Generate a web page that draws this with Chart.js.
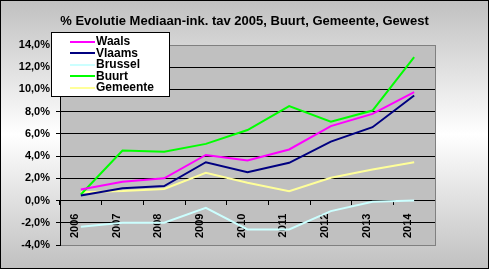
<!DOCTYPE html>
<html>
<head>
<meta charset="utf-8">
<script src="https://cdn.jsdelivr.net/npm/chart.js@4"></script>
<style>
  html, body { margin: 0; padding: 0; }
  #wrap { width: 489px; height: 269px; }
</style>
</head>
<body>
<div id="wrap"><canvas id="evolutieChart" width="489" height="269"></canvas></div>
<script>
// data (% change vs 2005)
const years = ['2006', '2007', '2008', '2009', '2010', '2011', '2012', '2013', '2014'];
const waals = [1.0, 1.7, 2.0, 4.1, 3.6, 4.6, 6.7, 7.8, 9.75];
const vlaams = [0.45, 1.1, 1.3, 3.45, 2.55, 3.4, 5.3, 6.6, 9.45];
const brussel = [-2.35, -2.0, -2.0, -0.65, -2.6, -2.6, -0.95, -0.1, 0.0];
const buurt = [0.55, 4.5, 4.4, 5.1, 6.35, 8.5, 7.1, 8.1, 12.9];
const gemeente = [0.75, 0.85, 1.05, 2.5, 1.6, 0.85, 2.05, 2.8, 3.45];
const yMin = -4;
const yMax = 14;
const yStep = 2;
const chartTitle = '% Evolutie Mediaan-ink. tav 2005, Buurt, Gemeente, Gewest';

const fontFam = '"Liberation Sans", Arial, sans-serif';

function pct(v) {
    return v.toFixed(1).replace('.', ',') + '%';
}

// background, plot area fill, frame and title
const backdrop = {
    id: 'backdrop',
    beforeDraw(chart) {
        const ctx = chart.ctx;
        const w = chart.width, h = chart.height;
        const g = ctx.createLinearGradient(0, 0, 0, h);
        g.addColorStop(0, '#c0c0c0');
        g.addColorStop(0.5, '#ffffff');
        g.addColorStop(1, '#c0c0c0');
        ctx.save();
        ctx.fillStyle = g;
        ctx.fillRect(0, 0, w, h);
        const a = chart.chartArea;
        ctx.fillStyle = '#c0c0c0';
        ctx.fillRect(a.left, a.top, a.right - a.left, a.bottom - a.top);
        ctx.restore();
    },
    beforeDatasetsDraw(chart) {
        const ctx = chart.ctx;
        const a = chart.chartArea;
        ctx.save();
        ctx.strokeStyle = '#808080';
        ctx.lineWidth = 1;
        ctx.beginPath();
        ctx.moveTo(Math.round(a.right) + 0.5, a.top);
        ctx.lineTo(Math.round(a.right) + 0.5, a.bottom + 1);
        ctx.stroke();
        ctx.restore();
    },
    afterDraw(chart) {
        const ctx = chart.ctx;
        ctx.save();
        ctx.fillStyle = '#000000';
        ctx.font = 'bold 13px ' + fontFam;
        ctx.textAlign = 'center';
        ctx.textBaseline = 'middle';
        ctx.fillText(chartTitle, chart.width / 2, 21);
        ctx.strokeStyle = '#000000';
        ctx.lineWidth = 1;
        ctx.strokeRect(0.5, 0.5, chart.width - 1, chart.height - 1);
        ctx.restore();
    }
};

// boxed legend sitting over the top left of the plot
const boxLegend = {
    id: 'boxLegend',
    afterDraw(chart) {
        const ctx = chart.ctx;
        const x = 51, y = 32, w = 118, h = 64;
        ctx.save();
        ctx.fillStyle = '#ffffff';
        ctx.fillRect(x, y, w, h);
        ctx.strokeStyle = '#000000';
        ctx.lineWidth = 1;
        ctx.strokeRect(x + 0.5, y + 0.5, w, h);
        ctx.font = 'bold 12px ' + fontFam;
        ctx.textBaseline = 'middle';
        ctx.textAlign = 'left';
        chart.data.datasets.forEach((ds, i) => {
            const cy = y + 9.5 + i * 11.5;
            ctx.strokeStyle = ds.borderColor;
            ctx.lineWidth = 2;
            ctx.beginPath();
            ctx.moveTo(70, Math.round(cy));
            ctx.lineTo(95, Math.round(cy));
            ctx.stroke();
            ctx.fillStyle = '#000000';
            ctx.fillText(ds.label, 96, cy + 0.5);
        });
        ctx.restore();
    }
};

const ctx = document.getElementById('evolutieChart').getContext('2d');
const evolutieChart = new Chart(ctx, {
    type: 'line',
    data: {
        labels: years,
        datasets: [
            { label: 'Waals', data: waals, borderColor: '#ff00ff' },
            { label: 'Vlaams', data: vlaams, borderColor: '#000080' },
            { label: 'Brussel', data: brussel, borderColor: '#ccffff' },
            { label: 'Buurt', data: buurt, borderColor: '#00ff00' },
            { label: 'Gemeente', data: gemeente, borderColor: '#ffff99' }
        ]
    },
    options: {
        responsive: false,
        animation: false,
        layout: {
            padding: { left: 0, right: 54, top: 45, bottom: 24 }
        },
        elements: {
            line: { borderWidth: 2, tension: 0 },
            point: { radius: 0 }
        },
        plugins: {
            legend: { display: false },
            tooltip: { enabled: false },
            title: { display: false }
        },
        scales: {
            x: {
                position: { y: 0 },
                offset: true,
                border: { display: true, color: '#000000', width: 1 },
                grid: {
                    offset: true,
                    drawOnChartArea: false,
                    drawTicks: true,
                    tickLength: 4,
                    color: '#000000'
                },
                ticks: {
                    autoSkip: false,
                    minRotation: 90,
                    maxRotation: 90,
                    padding: 9,
                    labelOffset: -6,
                    color: '#000000',
                    font: { family: fontFam, size: 11, weight: 'bold' }
                }
            },
            y: {
                min: yMin,
                max: yMax,
                afterFit(scale) { scale.width = 60; },
                border: { display: true, color: '#000000', width: 1 },
                grid: {
                    color: c => (c.tick && (c.tick.value === yMax || c.tick.value === yMin)) ? '#808080' : '#000000',
                    tickLength: 4,
                    tickColor: '#000000'
                },
                ticks: {
                    stepSize: yStep,
                    padding: 6,
                    color: '#000000',
                    font: { family: fontFam, size: 11, weight: 'bold' },
                    callback: v => pct(v)
                }
            }
        }
    },
    plugins: [backdrop, boxLegend]
});
</script>
</body>
</html>
